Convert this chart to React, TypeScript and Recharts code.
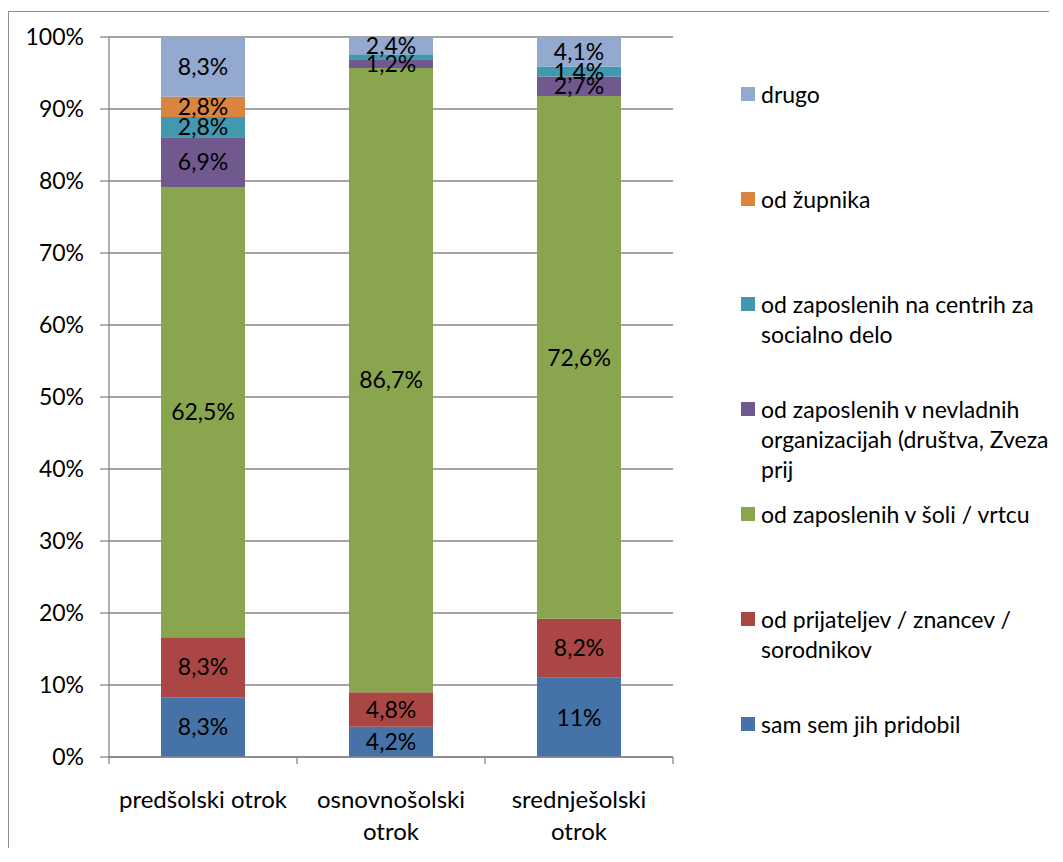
import React from 'react';
import { BarChart, Bar, XAxis, YAxis, CartesianGrid, Legend, LabelList } from 'recharts';

const categories = ['predšolski otrok', 'osnovnošolski otrok', 'srednješolski otrok'];
const seriesNames = [
  'sam sem jih pridobil',
  'od prijateljev / znancev / sorodnikov',
  'od zaposlenih v šoli / vrtcu',
  'od zaposlenih v nevladnih organizacijah (društva, Zveza prij',
  'od zaposlenih na centrih za socialno delo',
  'od župnika',
  'drugo',
];
const samSem = [8.3, 4.2, 11];
const prijatelji = [8.3, 4.8, 8.2];
const sola = [62.5, 86.7, 72.6];
const nevladne = [6.9, 1.2, 2.7];
const centri = [2.8, 0.7, 1.4];
const zupnik = [2.8, 0, 0];
const drugo = [8.3, 2.4, 4.1];
const yTicks = [0, 0.1, 0.2, 0.3, 0.4, 0.5, 0.6, 0.7, 0.8, 0.9, 1];

const seriesValues = [samSem, prijatelji, sola, nevladne, centri, zupnik, drugo];
const keys = ['s0', 's1', 's2', 's3', 's4', 's5', 's6'];
const colors = ['#4572A7', '#AA4643', '#89A54E', '#71588F', '#4198AF', '#DB843D', '#93A9CF'];

const data = categories.map((c, i) => {
  const row: Record<string, any> = { name: c };
  keys.forEach((k, j) => {
    row[k] = seriesValues[j][i];
  });
  return row;
});

const FONT = 'Lato, "Noto Sans", sans-serif';
const FS = 23;
const XFS = 24;
const GRID = '#868686';
const W = 1047;
const H = 846;

const fmtLabel = (v: any) => {
  const n = Number(v);
  if (!n || n < 1) return '';
  return `${String(n).replace('.', ',')}%`;
};

let measureCtx: CanvasRenderingContext2D | null = null;
const measure = (s: string, size: number) => {
  if (!measureCtx) {
    const c = document.createElement('canvas');
    measureCtx = c.getContext('2d');
  }
  if (!measureCtx) return s.length * size * 0.5;
  measureCtx.font = `${size}px Lato`;
  return measureCtx.measureText(s).width;
};

const wrapWords = (s: string, maxW: number, size: number) => {
  const words = s.split(' ');
  const lines: string[] = [];
  let cur = '';
  words.forEach((w) => {
    const t = cur ? `${cur} ${w}` : w;
    if (cur && measure(t, size) > maxW) {
      lines.push(cur);
      cur = w;
    } else {
      cur = t;
    }
  });
  if (cur) lines.push(cur);
  return lines;
};

const CatTick = (props: any) => {
  const { x, y, payload, index, visibleTicksCount } = props;
  const half = Number(payload.offset) || 0;
  const lines = wrapWords(String(payload.value), 180, XFS);
  const isLast = index === (visibleTicksCount ?? categories.length) - 1;
  return (
    <g>
      <line x1={x - half} x2={x - half} y1={y} y2={y + 7} stroke={GRID} strokeWidth={1.3} />
      {isLast && <line x1={x + half} x2={x + half} y1={y} y2={y + 7} stroke={GRID} strokeWidth={1.3} />}
      <text x={x} y={y} textAnchor="middle" fill="#000" style={{ fontFamily: FONT, fontSize: XFS }}>
        {lines.map((l, i) => (
          <tspan key={i} x={x} y={y + 51 + i * 32}>
            {l}
          </tspan>
        ))}
      </text>
    </g>
  );
};

const LegendContent = (props: any) => {
  const payload = [...(props.payload || [])].sort(
    (a: any, b: any) => seriesNames.indexOf(b.value) - seriesNames.indexOf(a.value)
  );
  return (
    <div style={{ position: 'relative', width: W, height: H }}>
      {payload.map((p: any, i: number) => (
        <div
          key={p.value}
          style={{ position: 'absolute', left: 733, top: 86 + 105 * i - 15, display: 'flex', alignItems: 'flex-start' }}
        >
          <div style={{ width: 14, height: 14, background: p.color, marginTop: 8, marginRight: 6, flex: 'none' }} />
          <div
            style={{
              width: 300,
              fontFamily: FONT,
              fontSize: FS,
              lineHeight: '30px',
              color: '#000',
              whiteSpace: 'normal',
            }}
          >
            {p.value}
          </div>
        </div>
      ))}
    </div>
  );
};

export default function App() {
  return (
    <div style={{ position: 'relative', width: W, height: H }}>
      <div
        style={{
          position: 'absolute',
          left: 0,
          top: 3,
          width: 1040,
          height: 836,
          borderTop: '1px solid #8c8c8c',
          borderLeft: '1px solid #8c8c8c',
        }}
      />
      <div style={{ position: 'absolute', left: 0, top: 0 }}>
        <BarChart
          width={W}
          height={H}
          data={data}
          stackOffset="expand"
          margin={{ top: 29, right: 382, left: 0, bottom: 17 }}
          barSize={84}
        >
          <CartesianGrid horizontal vertical={false} stroke={GRID} strokeWidth={1.3} />
          <XAxis
            dataKey="name"
            tick={<CatTick />}
            tickLine={false}
            tickSize={0}
            tickMargin={0}
            axisLine={{ stroke: GRID, strokeWidth: 1.3 }}
            height={80}
            interval={0}
          />
          <YAxis
            width={101}
            domain={[0, 1]}
            ticks={yTicks}
            tickFormatter={(v: number) => `${Math.round(v * 100)}%`}
            tick={{ fill: '#000', fontFamily: FONT, fontSize: FS }}
            tickSize={9}
            tickMargin={16}
            tickLine={{ stroke: GRID, strokeWidth: 1.3 }}
            axisLine={{ stroke: GRID, strokeWidth: 1.3 }}
            interval={0}
          />
          <Legend
            layout="horizontal"
            verticalAlign="middle"
            align="center"
            wrapperStyle={{ position: 'absolute', left: 0, top: 0, width: W, height: H }}
            content={<LegendContent />}
          />
          {keys.map((k, j) => (
            <Bar
              key={k}
              dataKey={k}
              name={seriesNames[j]}
              stackId="a"
              fill={colors[j]}
              isAnimationActive={false}
            >
              <LabelList
                dataKey={k}
                position="center"
                formatter={fmtLabel}
                style={{ fontFamily: FONT, fontSize: FS, fill: '#000' }}
              />
            </Bar>
          ))}
        </BarChart>
      </div>
    </div>
  );
}
